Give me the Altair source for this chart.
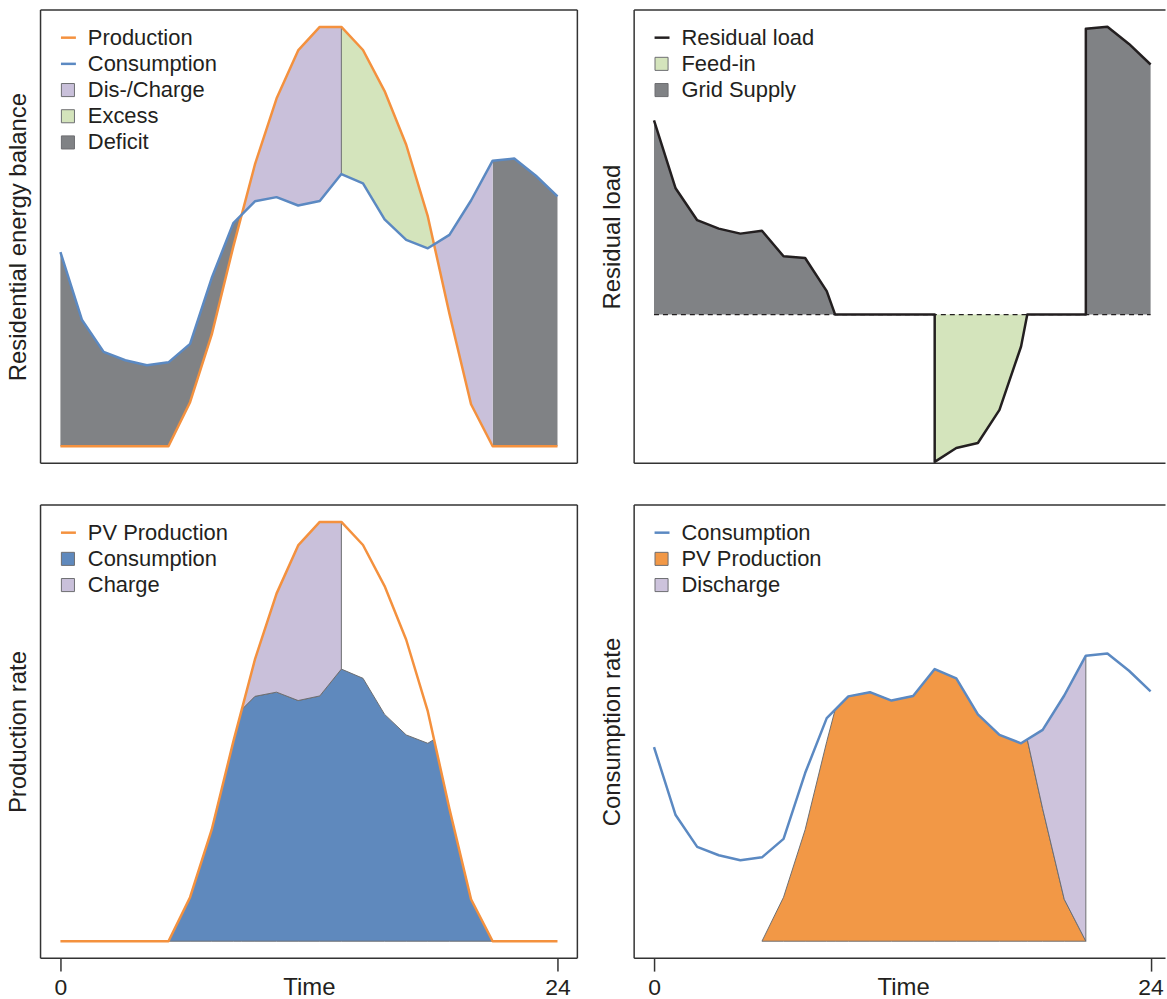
import altair as alt
import pandas as pd

# Hourly samples of one day: sample 1 is 0 h, sample 24 is 24 h
steps = list(range(1, 25))
consumption = [46.3, 30.1, 22.5, 20.5, 19.3, 20.0, 24.4, 40.1, 53.2, 58.4, 59.4, 57.4,
               58.5, 64.9, 62.7, 54.1, 49.2, 47.2, 50.4, 58.6, 68.1, 68.6, 64.5, 59.6]
production = [0, 0, 0, 0, 0, 0, 10.5, 26.6, 47.6, 67.2, 82.9, 94.4,
              100, 100, 94.5, 84.7, 71.9, 54.8, 31.6, 10.0, 0, 0, 0, 0]
storage_full = 14    # battery is full: surplus is fed into the grid from here
storage_empty = 21   # battery is empty: the grid supplies the load from here
tick_steps = [1, 24]
tick_labels = ["0", "24"]

FONT = "Liberation Sans"
INK = "#231F20"
FRAME = "#333333"
EDGE = "#6D6E71"
ORANGE = "#F4913E"
BLUE = "#5B89C2"
PURPLE = "#C9C0DA"
GREEN = "#D4E4BC"
DARK = "#808285"
BLUE_FILL = "#5F89BD"
ORANGE_FILL = "#F29846"
PURPLE_LIGHT = "#CDC3DC"

W_LEFT, W_RIGHT, H = 539, 533.5, 455
Y_DOMAIN = [-4.04, 104.04]
RES_DOMAIN = [-35.4, 72.6]
LEG_Y, LEG_ROW = 16.8, 26.3

# ---- sample points plus the points where the two curves cross ----
points, crossings = [], []
for i, s in enumerate(steps):
    points.append((s, consumption[i], production[i]))
    if i + 1 < len(steps):
        d0 = consumption[i] - production[i]
        d1 = consumption[i + 1] - production[i + 1]
        if d0 * d1 < 0:
            t = d0 / (d0 - d1)
            xc = s + t * (steps[i + 1] - s)
            vc = consumption[i] + t * (consumption[i + 1] - consumption[i])
            points.append((xc, vc, vc))
            crossings.append(xc)
charge_start, discharge_start = crossings[0], crossings[1]
pv_start = steps[next(i for i, p in enumerate(production) if p > 0) - 1]

ZERO = lambda c, p: 0.0
CONS = lambda c, p: c
PROD = lambda c, p: p
NET = lambda c, p: c - p
LOW = lambda c, p: min(c, p)


def band(x0, x1, lo, hi, name, part):
    return [{"x": x, "lo": lo(c, p), "hi": hi(c, p), "name": name, "part": part}
            for x, c, p in points if x0 - 1e-9 <= x <= x1 + 1e-9]


line_df = pd.DataFrame({"x": steps, "Consumption": consumption, "Production": production})

# residual load: zero while the battery buffers, steps where it switches
residual = []
for x, c, p in points:
    if charge_start < x < storage_full or discharge_start < x < storage_empty:
        residual.append((x, 0.0))
    elif x in (storage_full, storage_empty):
        residual += [(x, 0.0), (x, c - p)]
    else:
        residual.append((x, c - p))
res_df = pd.DataFrame({"x": [r[0] for r in residual], "v": [r[1] for r in residual],
                       "ord": list(range(len(residual))), "name": "Residual load"})


def legend_common(x, y, **kw):
    return alt.Legend(title=None, orient="none", legendX=x, legendY=y, padding=0,
                      labelFont=FONT, labelFontSize=22, labelColor=INK, rowPadding=4.3,
                      labelLimit=0, **kw)


def stroke_enc(names, colors):
    leg = legend_common(17, LEG_Y, symbolType="stroke", symbolSize=225, symbolStrokeWidth=2.5,
                        labelOffset=8.5)
    return alt.Stroke("name:N", scale=alt.Scale(domain=names, range=colors), legend=leg)


def fill_enc(names, colors, n_lines):
    leg = legend_common(16.5, LEG_Y + n_lines * LEG_ROW, symbolType="square", symbolSize=172,
                        symbolStrokeWidth=1, symbolStrokeColor=EDGE, labelOffset=9)
    return alt.Fill("name:N", scale=alt.Scale(domain=names, range=colors), legend=leg)


def y_axis(title):
    return alt.Axis(title=title, labels=False, ticks=False, domain=False, grid=False,
                    titleFont=FONT, titleFontSize=24, titleFontWeight="normal",
                    titleColor=INK, titlePadding=10)


def x_axis(title_x):
    expr = " : ".join(f"datum.value == {s} ? '{l}'" for s, l in zip(tick_steps[:-1], tick_labels[:-1]))
    expr = f"{expr} : '{tick_labels[-1]}'"
    return alt.Axis(values=tick_steps, labelExpr=expr, title="Time", grid=False, domain=False,
                    tickSize=13, tickWidth=1.5, tickColor=FRAME, labelFlush=False,
                    labelOverlap=False, labelFont=FONT, labelFontSize=23, labelColor=INK,
                    labelBaseline="alphabetic", labelPadding=23,
                    titleFont=FONT, titleFontSize=24, titleFontWeight="normal", titleColor=INK,
                    titleBaseline="alphabetic", titleY=36, titleX=title_x)


class Panel:
    """Shared scales and axes of one panel."""

    def __init__(self, x_hi, y_domain, y_title, x_ax):
        self.xs = alt.Scale(domain=[0.08, x_hi], nice=False, zero=False)
        self.ys = alt.Scale(domain=y_domain, nice=False, zero=False)
        self.xa = x_ax
        self.ya = y_axis(y_title)

    def X(self, field="x:Q"):
        return alt.X(field, scale=self.xs, axis=self.xa)

    def Y(self, field):
        return alt.Y(field, scale=self.ys, axis=self.ya, stack=None)

    def area(self, rows, fenc, **mark):
        return alt.Chart(pd.DataFrame(rows)).mark_area(opacity=1, **mark).encode(
            x=self.X(), y=self.Y("hi:Q"), y2="lo:Q", fill=fenc, detail="part:N")

    def line(self, df, senc, order=False):
        enc = dict(x=self.X(), y=self.Y("v:Q"), stroke=senc)
        if order:
            enc["order"] = "ord:Q"
        return alt.Chart(df).mark_line(strokeWidth=2.5, strokeJoin="round").encode(**enc)


def frame(w, h, right=True):
    one = pd.DataFrame({"k": [0]})
    base = alt.Chart(one).mark_rule(color=FRAME, strokeWidth=1.5)
    parts = [
        base.encode(x=alt.value(0), y=alt.value(0), y2=alt.value(h)),
        base.encode(x=alt.value(0), x2=alt.value(w), y=alt.value(0)),
        base.encode(x=alt.value(0), x2=alt.value(w), y=alt.value(h)),
    ]
    if right:
        parts.append(base.encode(x=alt.value(w), y=alt.value(0), y2=alt.value(h)))
    return parts


def series(col, name):
    return line_df[["x", col]].rename(columns={col: "v"}).assign(name=name)


# ---- top left: residential energy balance ----
p = Panel(24.92, Y_DOMAIN, "Residential energy balance", None)
tl_s = stroke_enc(["Production", "Consumption"], [ORANGE, BLUE])
tl_f = fill_enc(["Dis-/Charge", "Excess", "Deficit"], [PURPLE, GREEN, DARK], 2)
tl_rows = (band(steps[0], charge_start, PROD, CONS, "Deficit", "night")
           + band(storage_empty, steps[-1], PROD, CONS, "Deficit", "evening")
           + band(charge_start, storage_full, CONS, PROD, "Dis-/Charge", "charge")
           + band(discharge_start, storage_empty, PROD, CONS, "Dis-/Charge", "discharge")
           + band(storage_full, discharge_start, CONS, PROD, "Excess", "excess"))
full_idx = steps.index(storage_full)
sep_df = pd.DataFrame({"x": [storage_full], "lo": [consumption[full_idx]], "hi": [production[full_idx]]})
tl = alt.layer(
    p.area(tl_rows, tl_f),
    alt.Chart(sep_df).mark_rule(color=EDGE, strokeWidth=1).encode(
        x=p.X(), y=p.Y("lo:Q"), y2="hi:Q"),
    p.line(series("Production", "Production"), tl_s),
    p.line(series("Consumption", "Consumption"), tl_s),
    *frame(W_LEFT, H),
).properties(width=W_LEFT, height=H)

# ---- top right: residual load ----
p = Panel(24.69, RES_DOMAIN, "Residual load", None)
tr_s = stroke_enc(["Residual load"], [INK])
tr_f = fill_enc(["Feed-in", "Grid Supply"], [GREEN, DARK], 1)
tr_rows = (band(steps[0], charge_start, ZERO, NET, "Grid Supply", "night")
           + band(storage_empty, steps[-1], ZERO, NET, "Grid Supply", "evening")
           + band(storage_full, discharge_start, NET, ZERO, "Feed-in", "noon"))
zero_df = pd.DataFrame({"x": [steps[0]], "x2": [steps[-1]], "y": [0.0]})
tr = alt.layer(
    p.area(tr_rows, tr_f),
    alt.Chart(zero_df).mark_rule(color=INK, strokeWidth=1.2, strokeDash=[5, 4]).encode(
        x=p.X(), x2="x2:Q", y=p.Y("y:Q")),
    p.line(res_df, tr_s, order=True),
    *frame(W_RIGHT, H, right=False),
).properties(width=W_RIGHT, height=H)

# ---- bottom left: use of the PV production ----
p = Panel(24.92, Y_DOMAIN, "Production rate", x_axis(W_LEFT / 2))
bl_s = stroke_enc(["PV Production"], [ORANGE])
bl_f = fill_enc(["Consumption", "Charge"], [BLUE_FILL, PURPLE], 1)
bl_rows = (band(pv_start, storage_empty, ZERO, LOW, "Consumption", "cover")
           + band(charge_start, storage_full, CONS, PROD, "Charge", "charge"))
bl = alt.layer(
    p.area(bl_rows, bl_f, stroke=EDGE, strokeWidth=1),
    p.line(series("Production", "PV Production"), bl_s),
    *frame(W_LEFT, H),
).properties(width=W_LEFT, height=H)

# ---- bottom right: coverage of the consumption ----
p = Panel(24.69, Y_DOMAIN, "Consumption rate", x_axis(270))
br_s = stroke_enc(["Consumption"], [BLUE])
br_f = fill_enc(["PV Production", "Discharge"], [ORANGE_FILL, PURPLE_LIGHT], 1)
br_rows = (band(pv_start, storage_empty, ZERO, LOW, "PV Production", "cover")
           + band(discharge_start, storage_empty, PROD, CONS, "Discharge", "discharge"))
br = alt.layer(
    p.area(br_rows, br_f, stroke=EDGE, strokeWidth=1),
    p.line(series("Consumption", "Consumption"), br_s),
    *frame(W_RIGHT, H, right=False),
).properties(width=W_RIGHT, height=H)

chart = alt.vconcat(
    alt.hconcat(tl, tr, spacing=22).resolve_scale(stroke="independent", fill="independent"),
    alt.hconcat(bl, br, spacing=22).resolve_scale(stroke="independent", fill="independent"),
    spacing=40,
).resolve_scale(stroke="independent", fill="independent").properties(
    padding={"left": 6.7, "top": 7, "right": 0, "bottom": 0}, background="white"
).configure_view(stroke=None).configure_text(font=FONT)

chart.save("out.html", embed_options={"renderer": "svg", "actions": False})
